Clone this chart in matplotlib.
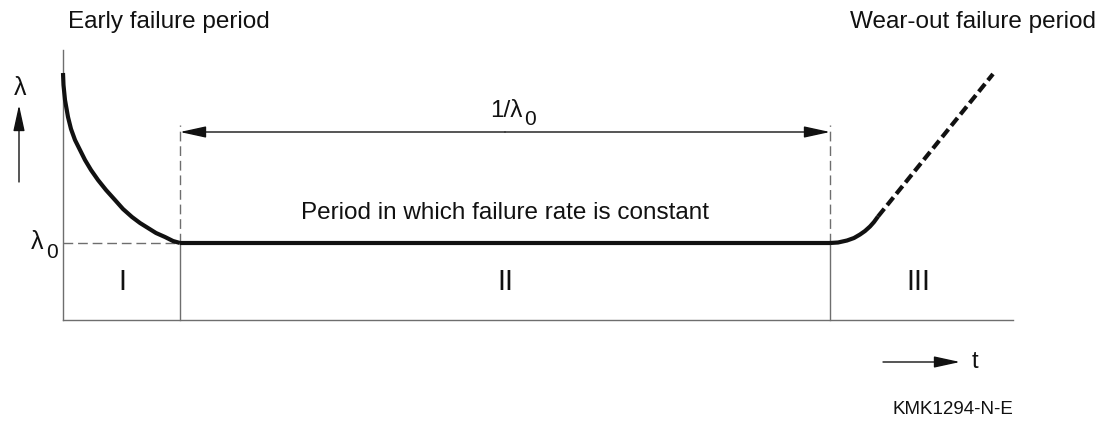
import matplotlib
matplotlib.use("Agg")
import matplotlib.pyplot as plt

# layout in diagram units (t, lambda)
T_AXIS_END = 95.0
R_AXIS_TOP = 27.0
T1 = 11.7          # end of early failure period
T2 = 76.7          # start of wear-out period
LAM0 = 7.7         # constant failure rate level
ARROW_R = 18.8
DASH_TOP = 19.5

# early failure curve
early_t = [0.0, 0.05, 0.2, 0.5, 0.8, 1.2, 1.7, 2.2, 2.8, 3.5, 4.3, 5.2,
           6.0, 6.9, 7.7, 8.5, 9.3, 10.2, 11.0, 11.7]
early_r = [24.7, 23.5, 22.0, 20.3, 19.1, 18.0, 17.0, 16.0, 15.0, 14.0, 13.0, 12.0,
           11.1, 10.3, 9.7, 9.2, 8.7, 8.3, 7.9, 7.7]

# constant period
flat_t = [T1, T2]
flat_r = [LAM0, LAM0]

# start of wear-out (solid) and its dashed extension
knee_t = [76.7, 77.5, 78.4, 79.1, 79.7, 80.2, 80.7, 81.1, 81.5]
knee_r = [7.7, 7.75, 7.95, 8.2, 8.55, 8.9, 9.35, 9.8, 10.35]
wear_t = [81.5, 93.0]
wear_r = [10.35, 24.6]

region_labels = ["I", "II", "III"]
region_t = [5.9, (T1 + T2) / 2, 85.5]

FONT = ["Liberation Sans", "DejaVu Sans"]
plt.rcParams["font.family"] = FONT

fig = plt.figure(figsize=(10.99, 4.24), dpi=100)
ax = fig.add_axes([0, 0, 1, 1])
ax.set_xlim(-6.3, 103.6)
ax.set_ylim(-10.4, 32.0)
ax.axis("off")

GRAY = "#6e6e6e"
INK = "#111111"

# axes
ax.plot([0, 0], [0, R_AXIS_TOP], color=GRAY, lw=1.0)
ax.plot([0, T_AXIS_END], [0, 0], color=GRAY, lw=1.0)

# period boundaries (solid below lambda0, dashed above)
for tb in (T1, T2):
    ax.plot([tb, tb], [0, LAM0], color=GRAY, lw=1.0)
    ax.plot([tb, tb], [LAM0, DASH_TOP], color=GRAY, lw=1.0, dashes=(7, 3.5))
ax.plot([0, T1], [LAM0, LAM0], color=GRAY, lw=1.0, dashes=(7, 3.5))

# failure rate curve
kw = dict(color=INK, lw=3.0, solid_capstyle="butt", solid_joinstyle="round")
ax.plot(early_t, early_r, **kw)
ax.plot(flat_t, flat_r, **kw)
ax.plot(knee_t, knee_r, **kw)
ax.plot(wear_t, wear_r, color=INK, lw=3.0, dashes=(2.4, 1.1))

# 1/lambda0 span arrow
arrow = dict(arrowstyle="-|>,head_length=1.6,head_width=0.35", color=INK,
             lw=1.0, shrinkA=0, shrinkB=0)
mid = (T1 + T2) / 2
ax.annotate("", xy=(T1, ARROW_R), xytext=(mid, ARROW_R), arrowprops=arrow)
ax.annotate("", xy=(T2, ARROW_R), xytext=(mid, ARROW_R), arrowprops=arrow)
ax.text(45.9, 20.3, "1/λ", fontsize=17.5, ha="right", va="baseline", color=INK)
ax.text(46.1, 19.5, "0", fontsize=15, ha="left", va="baseline", color=INK)

# lambda axis label with arrow
ax.text(-4.3, 23.2, "λ", fontsize=18, ha="center", va="center", color=INK)
ax.annotate("", xy=(-4.4, 21.5), xytext=(-4.4, 13.8), arrowprops=arrow)
ax.text(-2.6, LAM0 + 0.1, "λ", fontsize=18, ha="center", va="center", color=INK)
ax.text(-1.1, LAM0 - 0.9, "0", fontsize=15, ha="center", va="center", color=INK)

# t axis arrow
ax.annotate("", xy=(89.7, -4.2), xytext=(82.0, -4.2), arrowprops=arrow)
ax.text(90.9, -4.2, "t", fontsize=17, ha="left", va="center", color=INK)

# region numerals
for lab, tx in zip(region_labels, region_t):
    ax.text(tx, 3.8, lab, fontsize=21, ha="center", va="center", color=INK)

ax.text(mid, 10.7, "Period in which failure rate is constant", fontsize=17.5,
        ha="center", va="center", color=INK)
ax.text(0.5, 29.8, "Early failure period", fontsize=17.5, ha="left", va="center",
        color=INK)
ax.text(103.3, 29.8, "Wear-out failure period", fontsize=17.5, ha="right",
        va="center", color=INK)
ax.text(95.0, -9.0, "KMK1294-N-E", fontsize=13.5, ha="right", va="center",
        color=INK)

fig.savefig("out.png", dpi=100)
plt.close(fig)
